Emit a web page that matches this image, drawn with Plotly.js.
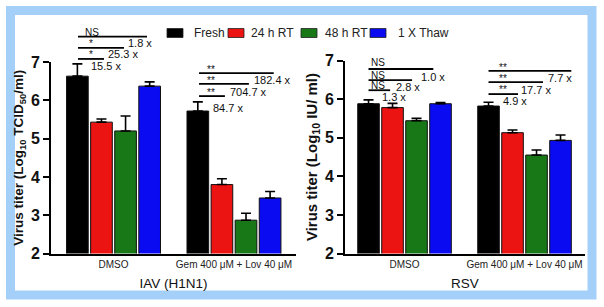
<!DOCTYPE html>
<html><head><meta charset="utf-8">
<script src="https://cdn.plot.ly/plotly-3.0.1.min.js"></script>
<style>html,body{margin:0;padding:0;background:#fff}</style>
</head><body><div id="chart" style="width:604px;height:307px"></div>
<script>
// ---------- data ----------
const groups = ["DMSO", "Gem 400 μM + Lov 40 μM"];
const seriesNames = ["Fresh", "24 h RT", "48 h RT", "1 X Thaw"];
const seriesColors = ["#000000", "#ec1313", "#187818", "#0b0bf2"];

// IAV (H1N1): log10 TCID50/ml, per series [DMSO, Gem+Lov]
const iavFresh = [6.63, 5.72];   const iavFreshErr = [0.32, 0.24];
const iav24h   = [5.43, 3.80];   const iav24hErr   = [0.08, 0.15];
const iav48h   = [5.20, 2.87];   const iav48hErr   = [0.39, 0.18];
const iavThaw  = [6.37, 3.45];   const iavThawErr  = [0.11, 0.17];

// RSV: log10 IU/ml
const rsvFresh = [5.88, 5.82];   const rsvFreshErr = [0.10, 0.10];
const rsv24h   = [5.78, 5.13];   const rsv24hErr   = [0.11, 0.07];
const rsv48h   = [5.44, 4.55];   const rsv48hErr   = [0.06, 0.13];
const rsvThaw  = [5.88, 4.93];   const rsvThawErr  = [0.03, 0.14];

// significance labels and fold changes (top line first)
const iavDmsoSig  = ["NS", "*", "*"];    const iavDmsoFold = ["1.8 x", "25.3 x", "15.5 x"];
const iavGemSig   = ["**", "**", "**"];  const iavGemFold  = ["182.4 x", "704.7 x", "84.7 x"];
const rsvDmsoSig  = ["NS", "NS", "NS"];  const rsvDmsoFold = ["1.0 x", "2.8 x", "1.3 x"];
const rsvGemSig   = ["**", "**", "**"];  const rsvGemFold  = ["7.7 x", "17.7 x", "4.9 x"];

// ---------- layout geometry ----------
const W = 604, H = 307;
const FONT = "Liberation Sans, Arial, Helvetica, sans-serif";
const yDomL = [1 - 253.5 / H, 1 - 62 / H];
const yDomR = [1 - 253.5 / H, 1 - 60.5 / H];
const xDomL = [51 / W, 296 / W];
const xDomR = [345 / W, 585 / W];
const YR = [2, 7];

function py(v, dom) { return dom[0] + (v - YR[0]) / (YR[1] - YR[0]) * (dom[1] - dom[0]); }

const iavVals = [iavFresh, iav24h, iav48h, iavThaw];
const iavErrs = [iavFreshErr, iav24hErr, iav48hErr, iavThawErr];
const rsvVals = [rsvFresh, rsv24h, rsv48h, rsvThaw];
const rsvErrs = [rsvFreshErr, rsv24hErr, rsv48hErr, rsvThawErr];

const traces = [];
function addBars(vals, errs, xa, ya) {
  vals.forEach((v, i) => {
    traces.push({
      type: "bar", x: groups, y: v, name: seriesNames[i], xaxis: xa, yaxis: ya,
      showlegend: false,
      marker: { color: seriesColors[i], line: { color: "#111", width: 1 } },
      error_y: { type: "data", symmetric: false, array: errs[i], arrayminus: errs[i].map(() => 0),
                 color: "#000", thickness: 1.6, width: 5 }
    });
  });
}
addBars(iavVals, iavErrs, "x", "y");
addBars(rsvVals, rsvErrs, "x2", "y2");

const shapes = [];
const annotations = [];

// frame
shapes.push({ type: "rect", xref: "paper", yref: "paper", layer: "above",
  x0: 10.5 / W, x1: 592 / W, y0: 1 - 295 / H, y1: 1 - 10.5 / H,
  line: { color: "#a3cff8", width: 9 } });

// significance brackets: [x0, x1, yLine, xSig, ySig, xFold, yFold] in data units (relative to group index)
function brackets(xa, dom, g, sig, fold, spec) {
  spec.forEach((s, k) => {
    shapes.push({ type: "line", xref: xa, yref: "paper", x0: g + s[0], x1: g + s[1],
      y0: py(s[2], dom), y1: py(s[2], dom), line: { color: "#000", width: 1.8 } });
    annotations.push({ xref: xa, yref: "paper", x: g + s[3], y: py(s[4], dom), text: sig[k],
      showarrow: false, xanchor: "center", yanchor: "middle", font: { family: FONT, size: 10, color: "#111" } });
    annotations.push({ xref: xa, yref: "paper", x: g + s[5], y: py(s[6], dom), text: fold[k],
      showarrow: false, xanchor: "left", yanchor: "middle", font: { family: FONT, size: 11, color: "#111" } });
  });
}
brackets("x", yDomL, 0, iavDmsoSig, iavDmsoFold, [
  [-0.295, 0.278, 7.66, -0.18, 7.78, 0.104, 7.50],
  [-0.295, 0.087, 7.37, -0.19, 7.48, -0.062, 7.21],
  [-0.295, -0.079, 7.08, -0.19, 7.19, -0.203, 6.90]]);
brackets("x", yDomL, 1, iavGemSig, iavGemFold, [
  [-0.29, 0.33, 6.71, -0.19, 6.80, 0.149, 6.53],
  [-0.29, 0.124, 6.43, -0.19, 6.51, -0.05, 6.22],
  [-0.29, -0.075, 6.11, -0.19, 6.20, -0.19, 5.80]]);
brackets("x2", yDomR, 0, rsvDmsoSig, rsvDmsoFold, [
  [-0.30, 0.24, 6.78, -0.22, 6.94, 0.121, 6.57],
  [-0.30, 0.063, 6.49, -0.22, 6.62, -0.0875, 6.31],
  [-0.30, -0.12, 6.23, -0.22, 6.36, -0.204, 6.05]]);
brackets("x2", yDomR, 1, rsvGemSig, rsvGemFold, [
  [-0.30, 0.39, 6.73, -0.18, 6.81, 0.179, 6.55],
  [-0.30, 0.154, 6.44, -0.18, 6.53, -0.046, 6.24],
  [-0.30, -0.054, 6.13, -0.18, 6.24, -0.196, 5.95]]);

// legend (manual, to match the compact layout)
const legSwatchX = [167, 228, 301, 370];
const legTextX = [193, 250, 324, 397];
seriesNames.forEach((n, i) => {
  shapes.push({ type: "rect", xref: "paper", yref: "paper",
    x0: legSwatchX[i] / W, x1: (legSwatchX[i] + 16) / W, y0: 1 - 37.5 / H, y1: 1 - 28.5 / H,
    fillcolor: seriesColors[i], line: { color: "#222", width: 0.8 } });
  annotations.push({ xref: "paper", yref: "paper", x: legTextX[i] / W, y: 1 - 33 / H, text: n,
    showarrow: false, xanchor: "left", yanchor: "middle", borderpad: 0,
    font: { family: FONT, size: 12, color: "#222" } });
});

function xAxis(dom, range, title, anchor) {
  return { domain: dom, range: range, anchor: anchor, type: "category",
    showline: true, linecolor: "#000", linewidth: 2, ticks: "", showgrid: false, zeroline: false,
    tickfont: { family: FONT, size: 10, color: "#222" },
    title: { text: title, font: { family: FONT, size: 13.5, color: "#111" }, standoff: 10 } };
}
function yAxis(dom, title, size, anchor) {
  return { domain: dom, range: YR, anchor: anchor, dtick: 1, tick0: 2,
    showline: true, linecolor: "#000", linewidth: 2, ticks: "outside", ticklen: 6, tickwidth: 2, tickcolor: "#000",
    showgrid: false, zeroline: false,
    tickfont: { family: FONT, size: 16, color: "#111", weight: "bold" },
    title: { text: title, font: { family: FONT, size: size, color: "#111", weight: "bold" }, standoff: 4 } };
}

const layout = {
  width: W, height: H, margin: { l: 0, r: 0, t: 0, b: 0 },
  paper_bgcolor: "#fff", plot_bgcolor: "#fff",
  barmode: "group", bargap: 0.2, bargroupgap: 0.1,
  showlegend: false,
  xaxis: xAxis(xDomL, [-0.519, 1.515], "IAV (H1N1)", "y"),
  yaxis: yAxis(yDomL, "Virus titer (Log<sub>10</sub> TCID<sub>50</sub>/ml)", 13.5, "x"),
  xaxis2: xAxis(xDomR, [-0.496, 1.504], "RSV", "y2"),
  yaxis2: yAxis(yDomR, "Virus titer (Log<sub>10</sub> IU/ ml)", 15, "x2"),
  shapes: shapes, annotations: annotations
};

Plotly.newPlot("chart", traces, layout, { displayModeBar: false, staticPlot: true });
</script></body></html>
